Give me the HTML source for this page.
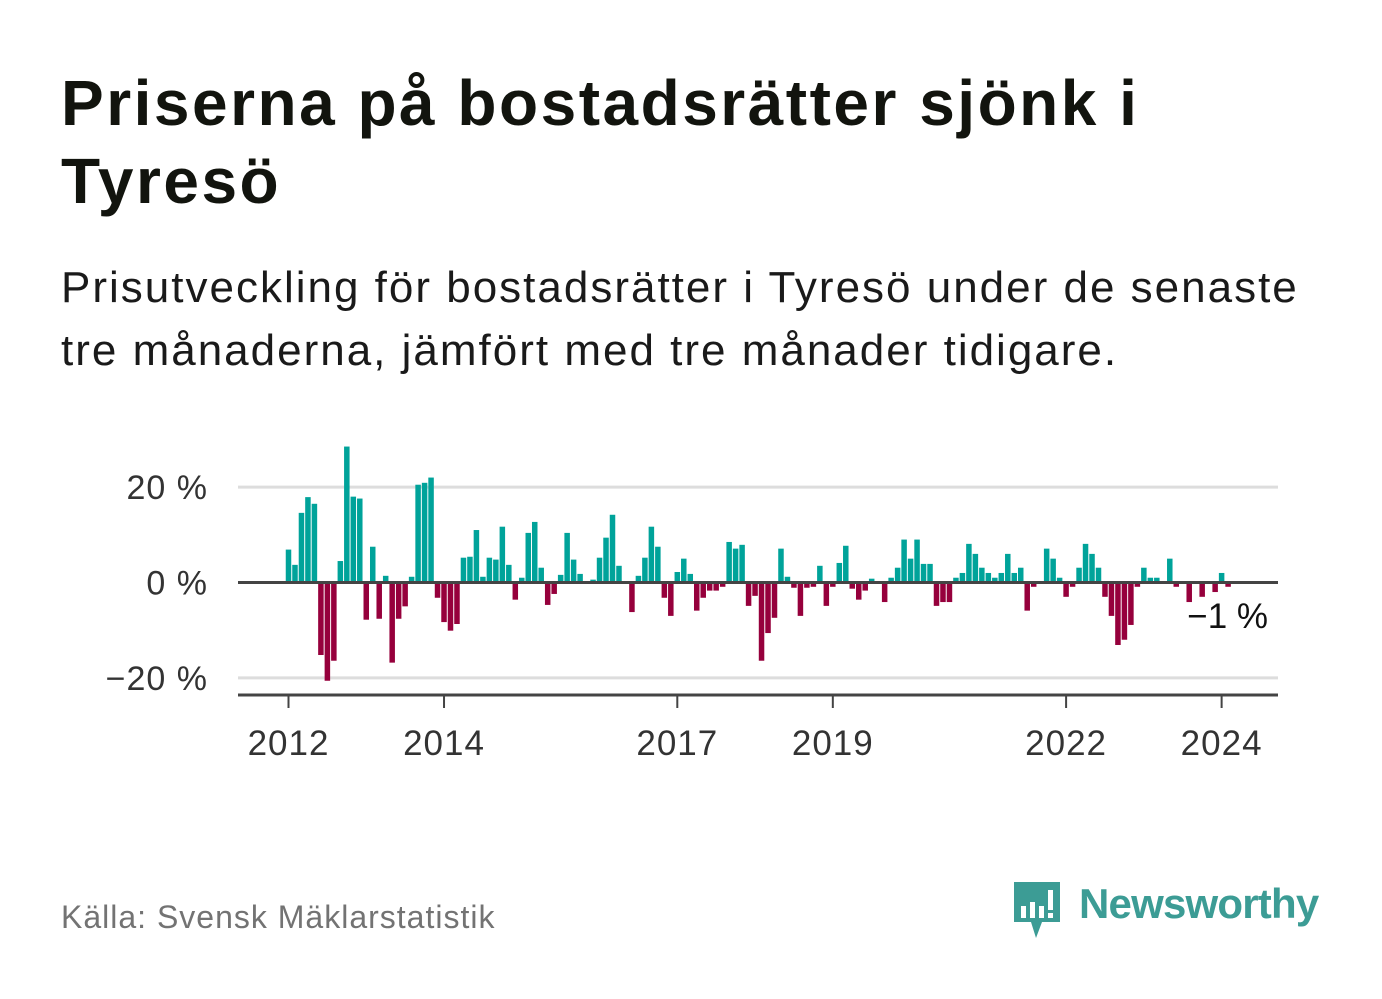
<!DOCTYPE html>
<html><head><meta charset="utf-8">
<style>
html,body{margin:0;padding:0;background:#fff;}
body{width:1382px;height:999px;position:relative;overflow:hidden;font-family:"Liberation Sans","DejaVu Sans",sans-serif;}
#title{position:absolute;left:61px;top:64px;margin:0;font-size:64px;line-height:78px;font-weight:bold;color:#12140e;letter-spacing:2.5px;}
#subtitle{position:absolute;left:61px;top:256px;margin:0;font-size:44px;line-height:63px;color:#1a1a1a;letter-spacing:2px;}
#source{position:absolute;left:61px;top:899px;font-size:32px;color:#737373;letter-spacing:1px;}
#logo{position:absolute;left:1010px;top:878px;}
svg text{font-family:"Liberation Sans","DejaVu Sans",sans-serif;}
</style></head><body>
<h1 id="title">Priserna på bostadsrätter sjönk i<br>Tyresö</h1>
<p id="subtitle">Prisutveckling för bostadsrätter i Tyresö under de senaste<br>tre månaderna, jämfört med tre månader tidigare.</p>
<svg id="chart" width="1382" height="999" style="position:absolute;left:0;top:0" xmlns="http://www.w3.org/2000/svg"></svg>
<div id="source">Källa: Svensk Mäklarstatistik</div>
<div id="logo">
<svg width="320" height="64" xmlns="http://www.w3.org/2000/svg">
<path d="M4 4h46v40H32l-6 16-5-16H4z" fill="#3c9c95"/>
<rect x="11" y="28" width="5" height="12" fill="#fff"/><rect x="20" y="24" width="5" height="16" fill="#fff"/><rect x="29" y="28" width="5" height="12" fill="#fff"/><rect x="38" y="12" width="5" height="20" fill="#fff"/><rect x="38" y="35" width="5" height="5" fill="#fff"/>
<text x="69" y="40" font-size="42" font-weight="bold" fill="#3c9c95" letter-spacing="-0.8">Newsworthy</text>
</svg></div>
<script>
const values = [6.9,3.7,14.6,17.9,16.5,-15.2,-20.6,-16.4,4.5,28.5,18,17.6,
-7.8,7.5,-7.6,1.4,-16.8,-7.6,-5,1.2,20.5,20.9,22,-3.2,
-8.3,-10.1,-8.7,5.2,5.4,11,1.2,5.2,4.8,11.7,3.7,-3.6,
1,10.4,12.7,3.1,-4.7,-2.4,1.6,10.4,4.8,1.8,0,0.6,
5.2,9.4,14.2,3.5,0,-6.2,1.4,5.2,11.7,7.5,-3.2,-7,
2.2,5,1.8,-5.9,-3.2,-1.7,-1.7,-0.9,8.5,7.1,7.9,-4.9,
-2.8,-16.4,-10.6,-7.4,7.1,1.2,-1.1,-7,-1.1,-0.9,3.5,-4.9,
-0.9,4.1,7.7,-1.3,-3.6,-1.7,0.8,0,-4.1,1,3.1,9,
5,9,3.9,3.9,-4.9,-4.1,-4.1,1,2,8.1,6,3.1,
2,1,2,6,2,3.1,-5.9,-0.9,0,7.1,5,1,
-3,-0.9,3.1,8.1,6,3.1,-3,-7,-13.1,-12,-8.9,-0.9,
3.1,1,1,0,5,-0.9,0,-4.1,0,-3,0,-2,
2,-0.9];
const startYear = 2012;
const yTicks = [20,0,-20];
const yTickLabels = ["20 %","0 %","\u221220 %"];
const xTickYears = [2012,2014,2017,2019,2022,2024];
const lastLabel = "\u22121 %";

const NS="http://www.w3.org/2000/svg";
const svg=document.getElementById('chart');
const x0=288.5, step=6.48, y0=582.5, ppu=4.77;
const xScale=i=>x0+i*step;
const yScale=v=>y0-v*ppu;
function mk(tag,attrs){const e=document.createElementNS(NS,tag);for(const k in attrs)e.setAttribute(k,attrs[k]);svg.appendChild(e);return e;}
yTicks.forEach((t,k)=>{
  if(t!==0){const g=mk('line',{x1:238,x2:1278,y1:yScale(t),y2:yScale(t),stroke:'#dddddd','stroke-width':3});
  
  }
  const tx=mk('text',{x:208,y:yScale(t)+12,'text-anchor':'end','font-size':34,'letter-spacing':1,fill:'#333'});
  tx.textContent=yTickLabels[k];
  
  
});
values.forEach((v,i)=>{
  const x=xScale(i)-2.75;
  const y=v>=0?yScale(v):y0;
  const h=Math.abs(v)*ppu;
  if(h===0)return;
  const r=mk('rect',{x:x,y:y,width:5.5,height:h,fill:v>=0?'#00a39a':'#96003c'});
  
  
});
const zl=mk('line',{x1:238,x2:1278,y1:y0,y2:y0,stroke:'#444','stroke-width':3});


const ax=mk('line',{x1:238,x2:1278,y1:695,y2:695,stroke:'#444','stroke-width':3});


xTickYears.forEach(yr=>{
  const x=xScale((yr-startYear)*12);
  const tk=mk('line',{x1:x,x2:x,y1:695,y2:708,stroke:'#444','stroke-width':2});
  
  
  const t=mk('text',{x:x,y:755,'text-anchor':'middle','font-size':35,'letter-spacing':1,fill:'#333'});
  t.textContent=yr;
  
  
});
const ll=mk('text',{x:1268,y:628,'text-anchor':'end','font-size':35,fill:'#111'});
ll.textContent=lastLabel;


</script>
</body></html>
